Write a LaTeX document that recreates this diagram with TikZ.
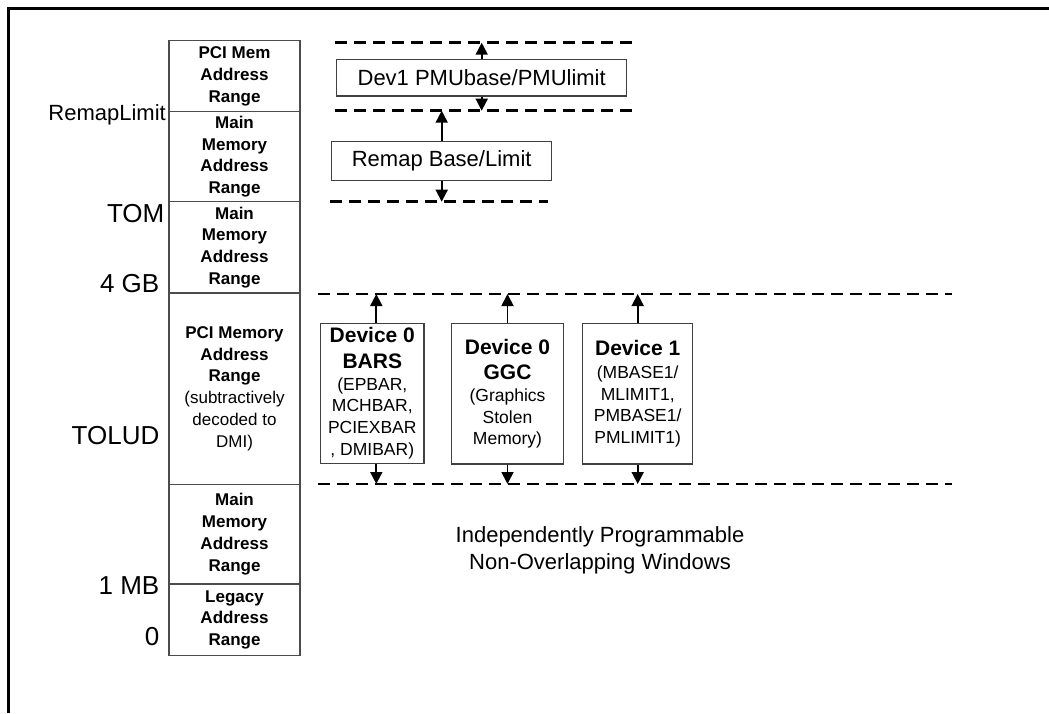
\documentclass[tikz,border=0pt]{standalone}
\usepackage{fontspec}
\setmainfont{Liberation Sans}
\usetikzlibrary{arrows.meta}
\newcommand{\devhead}[1]{{\fontsize{21}{25}\selectfont\bfseries #1}}
\newcommand{\plain}[1]{{\mdseries #1}}
\begin{document}
\begin{tikzpicture}[x=1pt,y=-1pt,
  cell/.style={draw=black!70, line width=1.3pt, fill=white, minimum width=131pt,
    inner sep=0pt, align=center, font=\fontsize{17}{21.7}\selectfont\bfseries},
  addr/.style={anchor=base east, inner sep=0pt, font=\fontsize{26}{30}\selectfont},
  regbox/.style={draw=black!75, line width=1.3pt, fill=white, inner sep=0pt,
    align=center, font=\fontsize{22}{26}\selectfont},
  devbox/.style={draw=black!75, line width=1.3pt, fill=white, inner sep=0pt,
    align=center, font=\fontsize{17.5}{21.7}\selectfont},
  bound/.style={line width=2.7pt, dash pattern=on 12pt off 7pt},
  arr/.style={line width=1.8pt, -{Triangle[length=12pt,width=12pt]}}]

\useasboundingbox (0,0) rectangle (1049,713);

% outer frame
\draw[line width=2.7pt] (8.7,713) -- (8.7,8.7) -- (1049,8.7);

% address map column
\node[cell, minimum height=71pt]    (pcimem)  at (234.5,76.2)   {PCI Mem\\Address\\Range};
\node[cell, minimum height=90pt]    (mainhi)  at (234.5,156.7)  {Main\\Memory\\Address\\Range};
\node[cell, minimum height=91.3pt]  (mainmid) at (234.5,247.35) {Main\\Memory\\Address\\Range};
\node[cell, minimum height=191.3pt] (pcimmio) at (234.5,388.65) {PCI Memory\\Address\\Range\\\plain{(subtractively}\\\plain{decoded to}\\\plain{DMI)}};
\node[cell, minimum height=99.7pt]  (mainlo)  at (234.5,534.15) {Main\\Memory\\Address\\Range};
\node[cell, minimum height=71.7pt]  (legacy)  at (234.5,619.85) {Legacy\\Address\\Range};

% boundary labels
\node[addr, font=\fontsize{22}{26}\selectfont] (lremap) at (166,120.7) {RemapLimit};
\node[addr] (ltom)   at (164.5,222.7) {TOM};
\node[addr] (l4gb)   at (159.5,292.5) {4 GB};
\node[addr] (ltolud) at (159.5,444.3) {TOLUD};
\node[addr] (l1mb)   at (159.5,594)   {1 MB};
\node[addr] (lzero)  at (159.5,645.5) {0};

% window boundaries
\coordinate (pmuTopL) at (335,42.7);  \coordinate (pmuTopR) at (633,42.7);
\coordinate (pmuBotL) at (335,110.7); \coordinate (pmuBotR) at (633,110.7);
\coordinate (remBotL) at (330,201.7); \coordinate (remBotR) at (548,201.7);
\coordinate (winTopL) at (318,294);   \coordinate (winTopR) at (952,294);
\coordinate (winBotL) at (318,484);   \coordinate (winBotR) at (952,484);
\draw[bound] (pmuTopL) -- (pmuTopR);
\draw[bound] (pmuBotL) -- (pmuBotR);
\draw[bound] (remBotL) -- (remBotR);
\draw[bound] (winTopL) -- (winTopR);
\draw[bound] (winBotL) -- (winBotR);

% upper register windows
\node[regbox, minimum width=290pt, minimum height=36.7pt] (pmu)   at (481.7,77.7)  {Dev1 PMUbase/PMUlimit};
\node[regbox, minimum width=220pt, minimum height=39pt]   (remap) at (441.7,161.2) {Remap Base/Limit};
\draw[arr] (pmu.north)   -- (pmu.north |- pmuTopL);
\draw[arr] (pmu.south)   -- (pmu.south |- pmuBotL);
\draw[arr] (remap.north) -- (remap.north |- pmuBotL);
\draw[arr] (remap.south) -- (remap.south |- remBotL);

% device windows below 4 GB
\node[devbox, minimum width=103.3pt, minimum height=140pt] (bars) at (372.3,393.3)
  {\devhead{Device 0}\\[3.5pt]\devhead{BARS}\\[0.5pt](EPBAR,\\MCHBAR,\\PCIEXBAR\\, DMIBAR)};
\node[devbox, minimum width=111.6pt, minimum height=140.7pt] (ggc) at (507.5,393.7)
  {\devhead{Device 0}\\[3.5pt]\devhead{GGC}\\[0.5pt](Graphics\\Stolen\\Memory)};
\node[devbox, minimum width=110pt, minimum height=140.7pt] (dev1) at (637.7,393.7)
  {\devhead{Device 1}\\[1.5pt](MBASE1/\\MLIMIT1,\\PMBASE1/\\PMLIMIT1)};
\draw[arr] ([xshift=4pt]bars.north) -- ([xshift=4pt]bars.north |- winTopL);
\draw[arr] ([xshift=4pt]bars.south) -- ([xshift=4pt]bars.south |- winBotL);
\draw[arr] (ggc.north)  -- (ggc.north |- winTopL);
\draw[arr] (ggc.south)  -- (ggc.south |- winBotL);
\draw[arr] (dev1.north) -- (dev1.north |- winTopL);
\draw[arr] (dev1.south) -- (dev1.south |- winBotL);

% caption
\node[align=center, inner sep=0pt, font=\fontsize{22}{26.7}\selectfont] (caption) at (600,550)
  {Independently Programmable\\Non-Overlapping Windows};
\end{tikzpicture}
\end{document}
